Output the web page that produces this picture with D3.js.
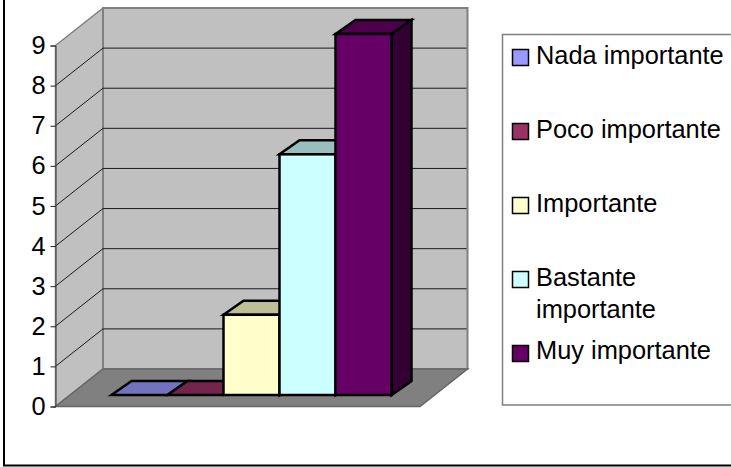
<!DOCTYPE html>
<html>
<head>
<meta charset="utf-8">
<script src="https://cdn.jsdelivr.net/npm/d3@7"></script>
<style>
  html, body { margin: 0; padding: 0; background: #fff; }
  svg { display: block; }
  text { font-family: "Liberation Sans", Arial, sans-serif; fill: #000; }
</style>
</head>
<body>
<div id="chart"></div>
<script>
const categories = ['Nada importante', 'Poco importante', 'Importante', 'Bastante importante', 'Muy importante'];
const values = [0, 0, 2, 6, 9];
const colors = ['#9999ff', '#993366', '#ffffcc', '#ccffff', '#660066'];
const tickLabels = [0, 1, 2, 3, 4, 5, 6, 7, 8, 9];
const legendLines = [['Nada importante'], ['Poco importante'], ['Importante'], ['Bastante', 'importante'], ['Muy importante']];

const w = 731;
const h = 467;
const fontSize = 25.4;

// front plane of the fake 3d box
const yScale = d3.scaleLinear().domain([0, 9]).range([406.5, 45.5]);
const xFront = 55.5;
const xFrontRight = 420;
const wallDx = 47.5;
const wallDy = -37.5;

// bars sit a bit inside the floor
const barLift = 11.5;
const barDx = 20;
const barDy = -14;
const xBand = d3.scaleBand().domain(categories).range([111.5, 391.5]);

const valueOf = (d) => values[categories.indexOf(d)];
const colorOf = (d) => colors[categories.indexOf(d)];

const svg = d3.select('#chart').append('svg')
  .attr('width', w)
  .attr('height', h);

const poly = (pts) => pts.map((p) => p.join(',')).join(' ');

// outer frame, only left and bottom are in the crop
svg.append('path')
   .attr('d', d3.line()([[4, 0], [4, 465.5], [w, 465.5]]))
   .attr('fill', 'none')
   .attr('stroke', '#000')
   .attr('stroke-width', 2);

const y0 = yScale(0);
const y9 = yScale(9);

// side wall
svg.append('polygon')
   .attr('points', poly([[xFront, y0], [xFront, y9], [xFront + wallDx, y9 + wallDy], [xFront + wallDx, y0 + wallDy]]))
   .attr('fill', '#c0c0c0')
   .attr('stroke', '#808080')
   .attr('stroke-width', 1.5);

// back wall
svg.append('rect')
   .attr('x', xFront + wallDx)
   .attr('y', y9 + wallDy)
   .attr('width', xFrontRight + wallDx - (xFront + wallDx))
   .attr('height', y0 - y9)
   .attr('fill', '#c0c0c0')
   .attr('stroke', '#808080')
   .attr('stroke-width', 2);

// floor
svg.append('polygon')
   .attr('points', poly([[xFront, y0], [xFrontRight, y0], [xFrontRight + wallDx, y0 + wallDy], [xFront + wallDx, y0 + wallDy]]))
   .attr('fill', '#808080')
   .attr('stroke', '#666666')
   .attr('stroke-width', 1.5);

// gridlines on both walls
const grid = tickLabels.filter((d) => d > 0 && d < 9);
svg.append('g').selectAll('path')
   .data(grid)
   .enter()
   .append('path')
   .attr('d', (d) => d3.line()([
     [xFront, yScale(d)],
     [xFront + wallDx, yScale(d) + wallDy],
     [xFrontRight + wallDx - 1, yScale(d) + wallDy]
   ]))
   .attr('fill', 'none')
   .attr('stroke', '#1a1a1a')
   .attr('stroke-width', 1);

// y axis
const yAxis = d3.axisLeft(yScale)
  .tickValues(tickLabels)
  .tickFormat(d3.format('d'))
  .tickSize(5)
  .tickPadding(5);

const axisG = svg.append('g')
   .attr('transform', 'translate(' + xFront + ',0)')
   .call(yAxis);
axisG.select('.domain').attr('stroke', '#404040').attr('stroke-width', 1);
axisG.selectAll('.tick line').attr('stroke', '#202020');
axisG.selectAll('text').style('font-size', fontSize + 'px').style('font-family', '"Liberation Sans", Arial, sans-serif').attr('fill', '#000');

// bars, left to right so the later ones cover the earlier ones
const barY = (v) => yScale(v) - barLift;
const bars = svg.append('g').selectAll('g')
   .data(categories)
   .enter()
   .append('g')
   .attr('stroke', '#000')
   .attr('stroke-width', 2.5)
   .attr('stroke-linejoin', 'miter');

// top face
bars.append('polygon')
   .attr('points', (d) => {
     const x0 = xBand(d), x1 = x0 + xBand.bandwidth(), y = barY(valueOf(d));
     return poly([[x0, y], [x1, y], [x1 + barDx, y + barDy], [x0 + barDx, y + barDy]]);
   })
   .attr('fill', (d) => d3.color(colorOf(d)).darker(0.83).formatHex());

// right face
bars.filter((d) => valueOf(d) > 0).append('polygon')
   .attr('points', (d) => {
     const x1 = xBand(d) + xBand.bandwidth(), y = barY(valueOf(d)), b = barY(0);
     return poly([[x1, y], [x1 + barDx, y + barDy], [x1 + barDx, b + barDy], [x1, b]]);
   })
   .attr('fill', (d) => d3.color(colorOf(d)).darker(2).formatHex());

// front face
bars.filter((d) => valueOf(d) > 0).append('rect')
   .attr('x', (d) => xBand(d))
   .attr('y', (d) => barY(valueOf(d)))
   .attr('width', xBand.bandwidth())
   .attr('height', (d) => barY(0) - barY(valueOf(d)))
   .attr('fill', (d) => colorOf(d));

// legend
svg.append('path')
   .attr('d', d3.line()([[w, 34.5], [502.5, 34.5], [502.5, 405], [w, 405]]))
   .attr('fill', '#fff')
   .attr('stroke', '#808080')
   .attr('stroke-width', 1.5);

const legendY = d3.scalePoint().domain(categories).range([49.5, 345.5]);

const legend = svg.append('g').selectAll('g')
   .data(categories)
   .enter()
   .append('g')
   .attr('transform', (d) => 'translate(512.5,' + legendY(d) + ')');

legend.append('rect')
   .attr('width', 16)
   .attr('height', 16)
   .attr('fill', (d) => colorOf(d))
   .attr('stroke', '#000')
   .attr('stroke-width', 1.5);

legend.append('text')
   .attr('x', 23.5)
   .attr('y', (d, i) => i === 4 ? 13.5 : (i === 3 ? 14 : 14.5))
   .style('font-size', fontSize + 'px')
   .selectAll('tspan')
   .data((d, i) => legendLines[i])
   .enter()
   .append('tspan')
   .attr('x', 23.5)
   .attr('dy', (d, i) => i === 0 ? 0 : 32)
   .text((d) => d);
</script>
</body>
</html>
